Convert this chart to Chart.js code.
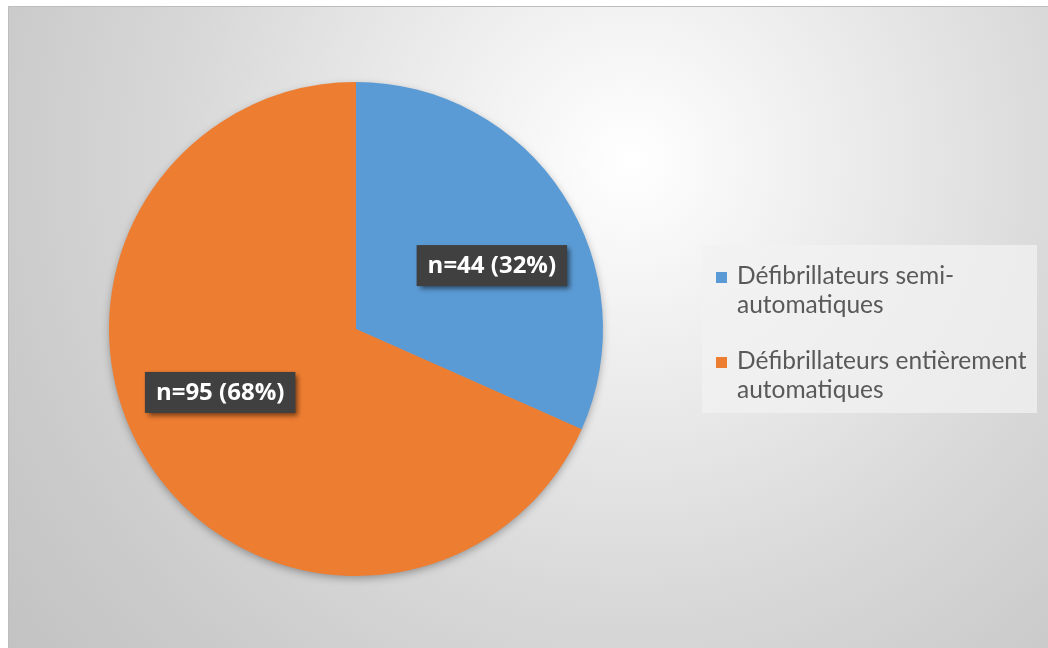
<!DOCTYPE html>
<html>
<head>
<meta charset="utf-8">
<script src="https://cdn.jsdelivr.net/npm/chart.js@4.4.0/dist/chart.umd.min.js"></script>
<style>
  html, body { margin: 0; padding: 0; background: #fff; }
  #wrap { width: 1048px; height: 648px; }
</style>
</head>
<body>
<div id="wrap"><canvas id="piechart"></canvas></div>
<script>
// data
const categories = [
  ['Défibrillateurs semi-', 'automatiques'],
  ['Défibrillateurs entièrement', 'automatiques']
];
const counts = [44, 95];
const sliceColors = ['#5B9BD5', '#ED7D31'];

// grey radial backdrop + frame
const backdrop = {
  id: 'backdrop',
  beforeDraw(chart) {
    const ctx = chart.ctx;
    ctx.save();
    ctx.fillStyle = '#ffffff';
    ctx.fillRect(0, 0, chart.width, chart.height);
    const g = ctx.createRadialGradient(630, 160, 0, 630, 160, 800);
    g.addColorStop(0, '#ffffff');
    g.addColorStop(0.36, '#e6e6e6');
    g.addColorStop(0.56, '#d8d8d8');
    g.addColorStop(0.79, '#cbcbcb');
    g.addColorStop(1, '#c2c2c2');
    ctx.fillStyle = g;
    ctx.fillRect(8, 6, chart.width - 8, chart.height - 6);
    ctx.strokeStyle = '#bdbdbd';
    ctx.lineWidth = 1;
    ctx.beginPath();
    ctx.moveTo(8.5, chart.height);
    ctx.lineTo(8.5, 6.5);
    ctx.lineTo(chart.width, 6.5);
    ctx.stroke();
    ctx.restore();
  },
  beforeDatasetsDraw(chart) {
    // soft shadow under the whole pie
    const arc = chart.getDatasetMeta(0).data[0];
    if (!arc) return;
    const ctx = chart.ctx;
    ctx.save();
    ctx.shadowColor = 'rgba(0,0,0,0.35)';
    ctx.shadowBlur = 8;
    ctx.shadowOffsetY = 3;
    ctx.fillStyle = '#999';
    ctx.beginPath();
    ctx.arc(arc.x, arc.y, arc.outerRadius - 1, 0, Math.PI * 2);
    ctx.fill();
    ctx.restore();
  }
};

// dark boxed data labels
const boxLabels = {
  id: 'boxLabels',
  afterDatasetsDraw(chart) {
    const ctx = chart.ctx;
    const ds = chart.data.datasets[0];
    const total = ds.data.reduce((a, b) => a + b, 0);
    const tilt = 8 * Math.PI / 180;
    ctx.save();
    ctx.font = 'bold 24px "Open Sans"';
    ctx.textAlign = 'center';
    ctx.textBaseline = 'middle';
    chart.getDatasetMeta(0).data.forEach((arc, i) => {
      const mid = (arc.startAngle + arc.endAngle) / 2 + tilt;
      const r = arc.outerRadius * 0.607;
      const x = arc.x + Math.cos(mid) * r;
      const y = arc.y + Math.sin(mid) * r;
      const txt = 'n=' + ds.data[i] + ' (' + Math.round(ds.data[i] / total * 100) + '%)';
      const w = ctx.measureText(txt).width + 22;
      const h = 41;
      ctx.shadowColor = 'rgba(0,0,0,0.55)';
      ctx.shadowBlur = 5;
      ctx.shadowOffsetX = 3;
      ctx.shadowOffsetY = 3;
      ctx.fillStyle = '#404040';
      ctx.fillRect(x - w / 2, y - h / 2, w, h);
      ctx.shadowColor = 'transparent';
      ctx.fillStyle = '#ffffff';
      ctx.fillText(txt, x, y + 1);
    });
    ctx.restore();
  }
};

// legend on the right, two-line labels
const sideLegend = {
  id: 'sideLegend',
  afterDraw(chart) {
    const ctx = chart.ctx;
    const labels = chart.data.labels;
    const colors = chart.data.datasets[0].backgroundColor;
    ctx.save();
    ctx.fillStyle = 'rgba(242,242,242,0.75)';
    ctx.fillRect(702, 245, 335, 168);
    ctx.font = '24.5px Lato';
    ctx.textBaseline = 'alphabetic';
    ctx.textAlign = 'left';
    let base = 284;
    labels.forEach((lab, i) => {
      ctx.fillStyle = colors[i];
      ctx.fillRect(716, base - 12, 11, 11);
      ctx.fillStyle = '#595959';
      lab.forEach((line, k) => {
        ctx.fillText(line, 737, base + k * 29);
      });
      base += 85;
    });
    ctx.restore();
  }
};

new Chart(document.getElementById('piechart'), {
  type: 'pie',
  data: {
    labels: categories,
    datasets: [{
      data: counts,
      backgroundColor: sliceColors,
      borderWidth: 0
    }]
  },
  options: {
    responsive: true,
    maintainAspectRatio: false,
    animation: false,
    layout: { padding: { left: 109, right: 445, top: 82, bottom: 72 } },
    plugins: {
      legend: { display: false },
      tooltip: { enabled: false }
    }
  },
  plugins: [backdrop, boxLabels, sideLegend]
});
</script>
</body>
</html>
